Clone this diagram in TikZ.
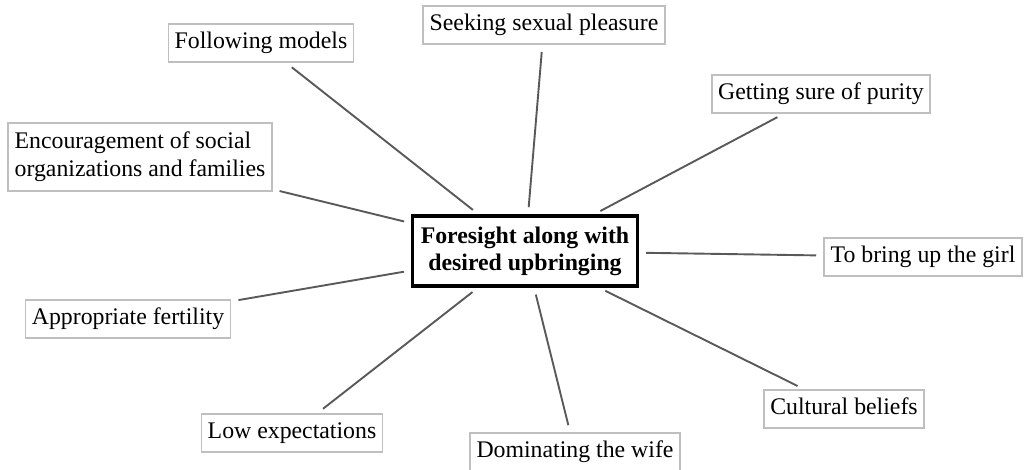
\documentclass[tikz,border=0pt]{standalone}
\usepackage{fontspec}
\setmainfont{Liberation Serif}
\begin{document}
\begin{tikzpicture}[x=0.5pt,y=-0.5pt,
  every node/.style={font=\fontsize{11.9}{14}\selectfont},
  leafbox/.style={draw=black!25, line width=0.8pt, fill=white, inner xsep=3.2pt, inner ysep=3.8pt},
  leaf/.style={leafbox, text height=8.6pt, text depth=2.8pt},
  leaftwo/.style={leafbox, align=left, minimum height=34pt},
  hub/.style={draw=black, line width=1.6pt, fill=white, inner xsep=4pt, inner ysep=2pt, minimum height=35pt, align=center, font=\fontsize{11.9}{13.6}\selectfont\bfseries},
  conn/.style={draw=black!65, line width=0.95pt, shorten <=3.6pt, shorten >=3.6pt}]
\useasboundingbox (0,0) rectangle (1027,470);
\node[hub] (c) at (525,251) {Foresight along with\\desired upbringing};
\node[leaf] (fm) at (261,43) {Following models};
\node[leaf] (ssp) at (544,25) {Seeking sexual pleasure};
\node[leaf] (gsp) at (821,94) {Getting sure of purity};
\node[leaftwo] (enc) at (140,157) {Encouragement of social\\organizations and families};
\node[leaf] (tbg) at (923,257) {To bring up the girl};
\node[leaf] (af) at (128,319) {Appropriate fertility};
\node[leaf] (le) at (292,433) {Low expectations};
\node[leaf] (dw) at (575,452) {Dominating the wife};
\node[leaf] (cb) at (844,409) {Cultural beliefs};
\foreach \n in {fm,ssp,gsp,enc,tbg,af,le,dw,cb}
  \draw[conn] (c) -- (\n);
\end{tikzpicture}
\end{document}
